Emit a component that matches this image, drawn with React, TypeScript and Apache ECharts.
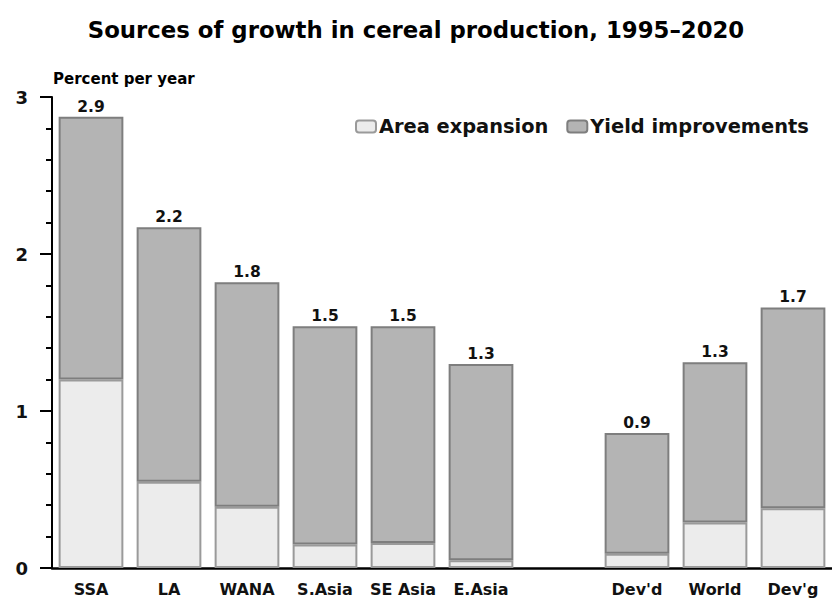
import React, { useEffect, useRef } from "react";
import * as echarts from "echarts";

const categories = ["SSA", "LA", "WANA", "S.Asia", "SE Asia", "E.Asia", "", "Dev'd", "World", "Dev'g"];
const areaExpansion = [1.2, 0.55, 0.39, 0.15, 0.16, 0.05, null, 0.09, 0.29, 0.38];
const yieldImprovements = [1.675, 1.62, 1.43, 1.39, 1.38, 1.25, null, 0.77, 1.02, 1.28];
const totalLabels = ["2.9", "2.2", "1.8", "1.5", "1.5", "1.3", "", "0.9", "1.3", "1.7"];
const yTicks = [0, 1, 2, 3];

const FONT = "DejaVu Sans, sans-serif";

export default function App() {
  const ref = useRef<HTMLDivElement>(null);
  useEffect(() => {
    document.body.style.margin = "0";
    const chart = echarts.init(ref.current!, null, { renderer: "svg" });
    chart.setOption({
      animation: false,
      backgroundColor: "#fff",
      textStyle: { fontFamily: FONT },
      title: {
        text: "Sources of growth in cereal production, 1995\u20132020",
        left: "center",
        top: 13,
        textStyle: { fontSize: 22.8, fontWeight: "bold", color: "#000", fontFamily: FONT },
      },
      legend: {
        left: 350,
        top: 112,
        itemWidth: 20,
        itemHeight: 12,
        itemGap: 18,
        itemStyle: {},
        textStyle: { fontSize: 19.4, fontWeight: "bold", color: "#111", fontFamily: FONT, padding: [0, 0, 0, -2] },
        data: ["Area expansion", "Yield improvements"],
      },
      graphic: [
        {
          type: "text",
          left: 53,
          top: 71,
          style: { text: "Percent per year", font: "bold 15px " + FONT, fill: "#000" },
        },
      ],
      grid: { left: 52, right: -3, top: 97, bottom: 31 },
      xAxis: {
        type: "category",
        data: categories,
        axisLine: { lineStyle: { color: "#000", width: 2.5 } },
        axisTick: { show: false },
        axisLabel: { fontSize: 16, fontWeight: "bold", color: "#111", margin: 13, interval: 0 },
      },
      yAxis: {
        type: "value",
        min: yTicks[0],
        max: yTicks[yTicks.length - 1],
        interval: 1,
        axisLine: { show: true, lineStyle: { color: "#000", width: 2 } },
        axisTick: { show: true, length: 12, lineStyle: { color: "#000", width: 2 } },
        minorTick: { show: true, splitNumber: 5, length: 6, lineStyle: { color: "#000", width: 2 } },
        splitLine: { show: false },
        axisLabel: { fontSize: 18, fontWeight: "bold", color: "#111", margin: 24 },
      },
      series: [
        {
          name: "Area expansion",
          type: "bar",
          stack: "total",
          data: areaExpansion,
          barCategoryGap: "17%",
          itemStyle: { color: "#ececec", borderColor: "#9a9a9a", borderWidth: 2 },
        },
        {
          name: "Yield improvements",
          type: "bar",
          stack: "total",
          data: yieldImprovements,
          itemStyle: { color: "#b4b4b4", borderColor: "#7e7e7e", borderWidth: 2 },
          label: {
            show: true,
            position: "top",
            distance: 2,
            fontSize: 15.5,
            fontWeight: "bold",
            color: "#111",
            formatter: (p: any) => totalLabels[p.dataIndex],
          },
        },
      ],
    });
    return () => chart.dispose();
  }, []);
  return <div ref={ref} style={{ width: 832, height: 599 }} />;
}
